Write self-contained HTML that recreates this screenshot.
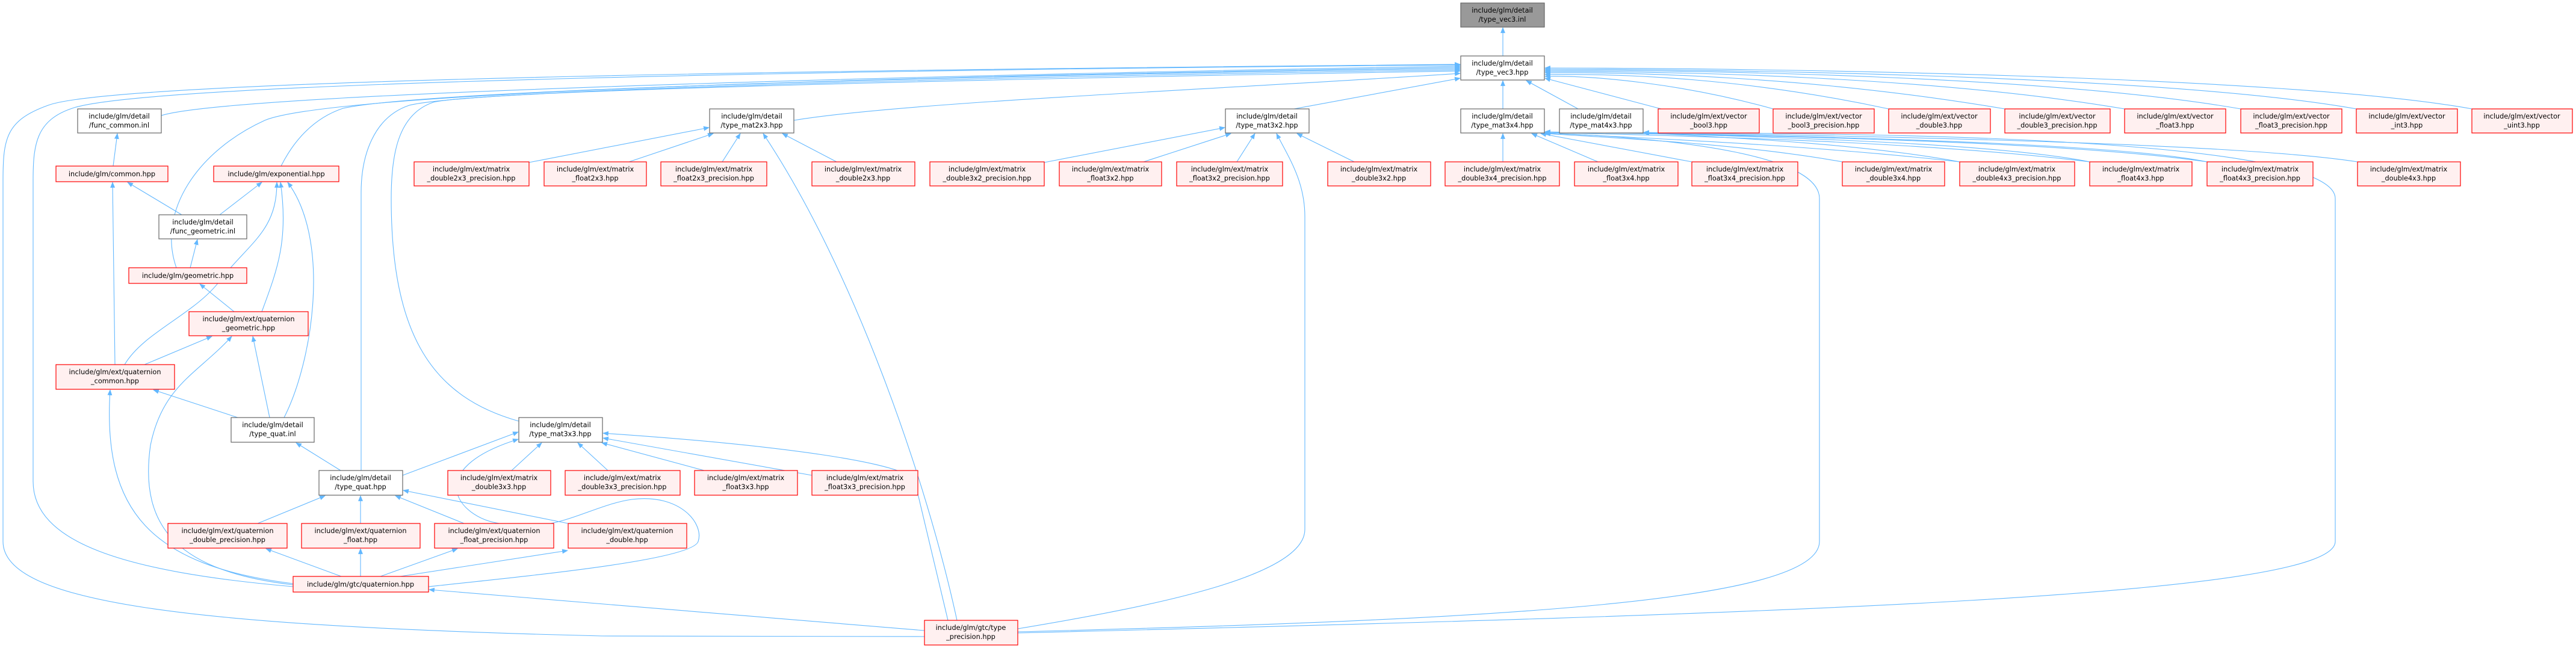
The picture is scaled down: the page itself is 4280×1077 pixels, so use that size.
<!DOCTYPE html>
<html><head><meta charset="utf-8"><style>
html,body{margin:0;padding:0;background:#fff;}
svg{display:block;}
text{font-family:"DejaVu Sans","Liberation Sans",sans-serif;font-size:11.3px;fill:#000;text-anchor:middle;}
.w{fill:#fff;stroke:#666;stroke-width:1.2;}
.g{fill:#999;stroke:#666;stroke-width:1.2;}
.r{fill:#fff0f0;stroke:#f00;stroke-width:1.2;}
.e{fill:none;stroke:#63b8ff;stroke-width:1.1;}
</style></head><body>
<svg width="4280" height="1077" viewBox="0 0 4280 1077" xmlns="http://www.w3.org/2000/svg">
<defs><marker id="a" viewBox="0 0 10 10" refX="9" refY="5" markerWidth="9" markerHeight="9" orient="auto-start-reverse"><path d="M0,1 L10,5 L0,9 z" fill="#63b8ff"/></marker></defs>
<g class="e">
<path d="M2497,93 L2497,46" marker-end="url(#a)"/>
<path d="M1536,1058 L1000,1057 C300,1040 5,1000 5,900 L5,300 C5,230 10,200 80,175 C200,130 1500,115 2426,107" marker-end="url(#a)"/>
<path d="M487,975 C200,950 55,900 55,800 L55,300 C55,240 60,200 120,180 C250,135 1500,115 2426,108" marker-end="url(#a)"/>
<path d="M268,192 C400,150 1800,120 2426,110" marker-end="url(#a)"/>
<path d="M293,445 C260,350 330,250 440,200 C560,150 1600,125 2426,112" marker-end="url(#a)"/>
<path d="M467,276 C480,250 510,200 570,180 C700,150 1600,125 2426,114" marker-end="url(#a)"/>
<path d="M600,782 L600,320 C600,260 620,195 680,175 C780,150 1600,128 2426,116" marker-end="url(#a)"/>
<path d="M862,700 C720,660 650,560 650,330 C650,260 660,190 720,170 C800,150 1700,130 2426,118" marker-end="url(#a)"/>
<path d="M1319,200 C1500,170 2000,150 2426,122" marker-end="url(#a)"/>
<path d="M2150,181 L2426,130" marker-end="url(#a)"/>
<path d="M2497,181 L2497,134" marker-end="url(#a)"/>
<path d="M2622,181 L2536,134" marker-end="url(#a)"/>
<path d="M2760,181 L2567,130" marker-end="url(#a)"/>
<path d="M2946,181 C2800,140 2650,125 2567,127" marker-end="url(#a)"/>
<path d="M3138,181 C2900,130 2700,122 2567,124" marker-end="url(#a)"/>
<path d="M3331,181 C3000,125 2700,120 2567,121" marker-end="url(#a)"/>
<path d="M3530,181 C3200,125 2750,118 2567,119" marker-end="url(#a)"/>
<path d="M3723,181 C3400,125 2800,116 2567,117" marker-end="url(#a)"/>
<path d="M3915,181 C3600,125 2850,115 2567,115" marker-end="url(#a)"/>
<path d="M4107,181 C3800,125 2900,113 2567,113" marker-end="url(#a)"/>
<path d="M879,270 L1178,212" marker-end="url(#a)"/>
<path d="M1045,269 L1185,222" marker-end="url(#a)"/>
<path d="M1200,269 L1230,222" marker-end="url(#a)"/>
<path d="M1390,269 L1300,222" marker-end="url(#a)"/>
<path d="M1590,1031 C1540,800 1420,450 1268,222" marker-end="url(#a)"/>
<path d="M1735,270 L2035,212" marker-end="url(#a)"/>
<path d="M1900,269 L2045,222" marker-end="url(#a)"/>
<path d="M2055,269 L2085,222" marker-end="url(#a)"/>
<path d="M2250,269 L2155,222" marker-end="url(#a)"/>
<path d="M1691,1045 C1900,1010 2168,960 2168,880 L2168,360 C2168,300 2140,260 2121,222" marker-end="url(#a)"/>
<path d="M2497,269 L2497,222" marker-end="url(#a)"/>
<path d="M2655,269 L2545,222" marker-end="url(#a)"/>
<path d="M2811,269 L2560,222" marker-end="url(#a)"/>
<path d="M3061,269 C2900,240 2700,230 2567,222" marker-end="url(#a)"/>
<path d="M3256,269 C3000,240 2700,228 2567,221" marker-end="url(#a)"/>
<path d="M3472,269 C3200,235 2800,226 2567,220" marker-end="url(#a)"/>
<path d="M3667,269 C3400,230 2800,224 2567,219" marker-end="url(#a)"/>
<path d="M1691,1050 C2500,1030 3023,1000 3023,900 L3023,330 C3023,260 2800,230 2567,221" marker-end="url(#a)"/>
<path d="M3256,269 C3100,240 2900,230 2731,221" marker-end="url(#a)"/>
<path d="M3472,269 C3300,235 2900,228 2731,221" marker-end="url(#a)"/>
<path d="M3667,269 C3500,235 2950,226 2731,221" marker-end="url(#a)"/>
<path d="M3917,269 C3700,235 3000,225 2731,220" marker-end="url(#a)"/>
<path d="M1691,1052 C3000,1020 3880,990 3880,900 L3880,330 C3880,250 3400,220 2731,221" marker-end="url(#a)"/>
<path d="M669,790 L861,718" marker-end="url(#a)"/>
<path d="M850,782 L900,736" marker-end="url(#a)"/>
<path d="M1010,782 L960,736" marker-end="url(#a)"/>
<path d="M1170,782 L1000,736" marker-end="url(#a)"/>
<path d="M1349,790 L1002,728" marker-end="url(#a)"/>
<path d="M1575,1031 L1520,800 C1510,770 1300,740 1002,720" marker-end="url(#a)"/>
<path d="M830,870 C760,860 700,780 861,730" marker-end="url(#a)"/>
<path d="M712,975 C900,955 1150,930 1160,900 C1170,870 1130,820 1050,830 C980,840 920,890 830,870"/>
<path d="M188,276 L195,222" marker-end="url(#a)"/>
<path d="M302,357 L212,303" marker-end="url(#a)"/>
<path d="M365,357 L435,303" marker-end="url(#a)"/>
<path d="M316,445 L328,398" marker-end="url(#a)"/>
<path d="M389,518 L332,472" marker-end="url(#a)"/>
<path d="M435,518 C460,450 480,400 466,303" marker-end="url(#a)"/>
<path d="M240,606 L352,559" marker-end="url(#a)"/>
<path d="M191,606 L187,303" marker-end="url(#a)"/>
<path d="M207,606 C240,550 330,520 370,460 C420,400 460,380 460,303" marker-end="url(#a)"/>
<path d="M395,694 L255,648" marker-end="url(#a)"/>
<path d="M448,694 L420,559" marker-end="url(#a)"/>
<path d="M472,694 C520,600 550,400 478,303" marker-end="url(#a)"/>
<path d="M566,782 L492,736" marker-end="url(#a)"/>
<path d="M428,870 L540,824" marker-end="url(#a)"/>
<path d="M599,870 L599,824" marker-end="url(#a)"/>
<path d="M771,870 L657,824" marker-end="url(#a)"/>
<path d="M944,870 L670,815" marker-end="url(#a)"/>
<path d="M567,958 L442,912" marker-end="url(#a)"/>
<path d="M599,958 L599,912" marker-end="url(#a)"/>
<path d="M632,958 L760,912" marker-end="url(#a)"/>
<path d="M665,958 L943,915" marker-end="url(#a)"/>
<path d="M487,970 C250,940 170,850 183,648" marker-end="url(#a)"/>
<path d="M487,972 C300,950 230,880 250,740 C270,640 330,620 385,559" marker-end="url(#a)"/>
<path d="M1536,1048 L713,980" marker-end="url(#a)"/>
</g>
<rect class="g" x="2427" y="5" width="139" height="40"/><text x="2496" y="21">include/glm/detail</text><text x="2496" y="36">/type_vec3.inl</text>
<rect class="w" x="2427" y="93" width="139" height="40"/><text x="2496" y="109">include/glm/detail</text><text x="2496" y="124">/type_vec3.hpp</text>
<rect class="w" x="129" y="181" width="139" height="40"/><text x="198" y="197">include/glm/detail</text><text x="198" y="212">/func_common.inl</text>
<rect class="w" x="1179" y="181" width="140" height="40"/><text x="1249" y="197">include/glm/detail</text><text x="1249" y="212">/type_mat2x3.hpp</text>
<rect class="w" x="2036" y="181" width="139" height="40"/><text x="2105" y="197">include/glm/detail</text><text x="2105" y="212">/type_mat3x2.hpp</text>
<rect class="w" x="2427" y="181" width="139" height="40"/><text x="2496" y="197">include/glm/detail</text><text x="2496" y="212">/type_mat3x4.hpp</text>
<rect class="w" x="2591" y="181" width="139" height="40"/><text x="2660" y="197">include/glm/detail</text><text x="2660" y="212">/type_mat4x3.hpp</text>
<rect class="r" x="2755" y="181" width="168" height="40"/><text x="2839" y="197">include/glm/ext/vector</text><text x="2839" y="212">_bool3.hpp</text>
<rect class="r" x="2946" y="181" width="168" height="40"/><text x="3030" y="197">include/glm/ext/vector</text><text x="3030" y="212">_bool3_precision.hpp</text>
<rect class="r" x="3138" y="181" width="169" height="40"/><text x="3222" y="197">include/glm/ext/vector</text><text x="3222" y="212">_double3.hpp</text>
<rect class="r" x="3331" y="181" width="175" height="40"/><text x="3418" y="197">include/glm/ext/vector</text><text x="3418" y="212">_double3_precision.hpp</text>
<rect class="r" x="3530" y="181" width="168" height="40"/><text x="3614" y="197">include/glm/ext/vector</text><text x="3614" y="212">_float3.hpp</text>
<rect class="r" x="3723" y="181" width="168" height="40"/><text x="3807" y="197">include/glm/ext/vector</text><text x="3807" y="212">_float3_precision.hpp</text>
<rect class="r" x="3915" y="181" width="168" height="40"/><text x="3999" y="197">include/glm/ext/vector</text><text x="3999" y="212">_int3.hpp</text>
<rect class="r" x="4107" y="181" width="167" height="40"/><text x="4190" y="197">include/glm/ext/vector</text><text x="4190" y="212">_uint3.hpp</text>
<rect class="r" x="93" y="276" width="186" height="26"/><text x="186" y="293">include/glm/common.hpp</text>
<rect class="r" x="355" y="276" width="208" height="26"/><text x="459" y="293">include/glm/exponential.hpp</text>
<rect class="r" x="688" y="269" width="191" height="40"/><text x="783" y="285">include/glm/ext/matrix</text><text x="783" y="300">_double2x3_precision.hpp</text>
<rect class="r" x="904" y="269" width="170" height="40"/><text x="989" y="285">include/glm/ext/matrix</text><text x="989" y="300">_float2x3.hpp</text>
<rect class="r" x="1098" y="269" width="176" height="40"/><text x="1186" y="285">include/glm/ext/matrix</text><text x="1186" y="300">_float2x3_precision.hpp</text>
<rect class="r" x="1349" y="269" width="171" height="40"/><text x="1434" y="285">include/glm/ext/matrix</text><text x="1434" y="300">_double2x3.hpp</text>
<rect class="r" x="1545" y="269" width="190" height="40"/><text x="1640" y="285">include/glm/ext/matrix</text><text x="1640" y="300">_double3x2_precision.hpp</text>
<rect class="r" x="1760" y="269" width="170" height="40"/><text x="1845" y="285">include/glm/ext/matrix</text><text x="1845" y="300">_float3x2.hpp</text>
<rect class="r" x="1955" y="269" width="176" height="40"/><text x="2043" y="285">include/glm/ext/matrix</text><text x="2043" y="300">_float3x2_precision.hpp</text>
<rect class="r" x="2206" y="269" width="171" height="40"/><text x="2291" y="285">include/glm/ext/matrix</text><text x="2291" y="300">_double3x2.hpp</text>
<rect class="r" x="2401" y="269" width="190" height="40"/><text x="2496" y="285">include/glm/ext/matrix</text><text x="2496" y="300">_double3x4_precision.hpp</text>
<rect class="r" x="2616" y="269" width="172" height="40"/><text x="2702" y="285">include/glm/ext/matrix</text><text x="2702" y="300">_float3x4.hpp</text>
<rect class="r" x="2811" y="269" width="176" height="40"/><text x="2899" y="285">include/glm/ext/matrix</text><text x="2899" y="300">_float3x4_precision.hpp</text>
<rect class="r" x="3061" y="269" width="170" height="40"/><text x="3146" y="285">include/glm/ext/matrix</text><text x="3146" y="300">_double3x4.hpp</text>
<rect class="r" x="3256" y="269" width="191" height="40"/><text x="3351" y="285">include/glm/ext/matrix</text><text x="3351" y="300">_double4x3_precision.hpp</text>
<rect class="r" x="3472" y="269" width="170" height="40"/><text x="3557" y="285">include/glm/ext/matrix</text><text x="3557" y="300">_float4x3.hpp</text>
<rect class="r" x="3667" y="269" width="176" height="40"/><text x="3755" y="285">include/glm/ext/matrix</text><text x="3755" y="300">_float4x3_precision.hpp</text>
<rect class="r" x="3917" y="269" width="171" height="40"/><text x="4002" y="285">include/glm/ext/matrix</text><text x="4002" y="300">_double4x3.hpp</text>
<rect class="w" x="264" y="357" width="146" height="40"/><text x="337" y="373">include/glm/detail</text><text x="337" y="388">/func_geometric.inl</text>
<rect class="r" x="214" y="445" width="196" height="26"/><text x="312" y="462">include/glm/geometric.hpp</text>
<rect class="r" x="314" y="518" width="198" height="40"/><text x="413" y="534">include/glm/ext/quaternion</text><text x="413" y="549">_geometric.hpp</text>
<rect class="r" x="93" y="606" width="197" height="41"/><text x="191" y="622">include/glm/ext/quaternion</text><text x="191" y="637">_common.hpp</text>
<rect class="w" x="384" y="694" width="138" height="41"/><text x="453" y="710">include/glm/detail</text><text x="453" y="725">/type_quat.inl</text>
<rect class="w" x="862" y="694" width="139" height="41"/><text x="931" y="710">include/glm/detail</text><text x="931" y="725">/type_mat3x3.hpp</text>
<rect class="w" x="530" y="782" width="139" height="41"/><text x="599" y="798">include/glm/detail</text><text x="599" y="813">/type_quat.hpp</text>
<rect class="r" x="744" y="782" width="171" height="41"/><text x="829" y="798">include/glm/ext/matrix</text><text x="829" y="813">_double3x3.hpp</text>
<rect class="r" x="939" y="782" width="191" height="41"/><text x="1034" y="798">include/glm/ext/matrix</text><text x="1034" y="813">_double3x3_precision.hpp</text>
<rect class="r" x="1154" y="782" width="171" height="41"/><text x="1239" y="798">include/glm/ext/matrix</text><text x="1239" y="813">_float3x3.hpp</text>
<rect class="r" x="1349" y="782" width="176" height="41"/><text x="1437" y="798">include/glm/ext/matrix</text><text x="1437" y="813">_float3x3_precision.hpp</text>
<rect class="r" x="279" y="870" width="198" height="41"/><text x="378" y="886">include/glm/ext/quaternion</text><text x="378" y="901">_double_precision.hpp</text>
<rect class="r" x="501" y="870" width="197" height="41"/><text x="599" y="886">include/glm/ext/quaternion</text><text x="599" y="901">_float.hpp</text>
<rect class="r" x="722" y="870" width="198" height="41"/><text x="821" y="886">include/glm/ext/quaternion</text><text x="821" y="901">_float_precision.hpp</text>
<rect class="r" x="944" y="870" width="197" height="41"/><text x="1042" y="886">include/glm/ext/quaternion</text><text x="1042" y="901">_double.hpp</text>
<rect class="r" x="487" y="958" width="225" height="26"/><text x="599" y="975">include/glm/gtc/quaternion.hpp</text>
<rect class="r" x="1536" y="1031" width="155" height="41"/><text x="1613" y="1047">include/glm/gtc/type</text><text x="1613" y="1062">_precision.hpp</text>
</svg>
</body></html>
